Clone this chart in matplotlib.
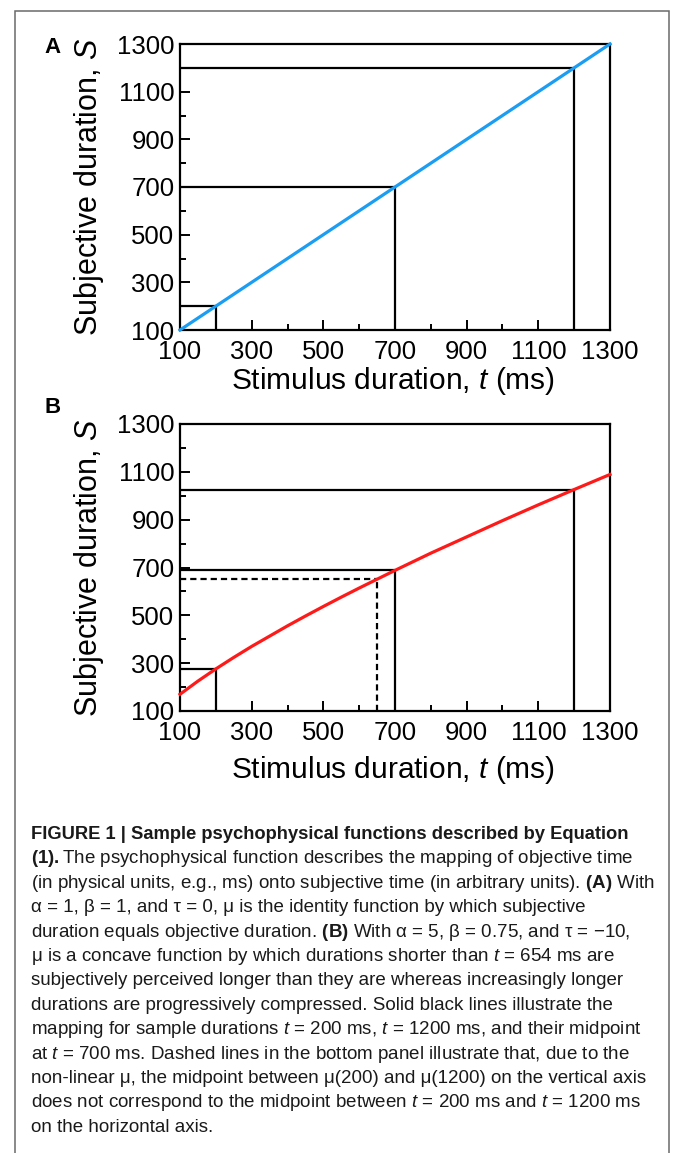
import matplotlib
matplotlib.use("Agg")
import matplotlib.pyplot as plt
from matplotlib import font_manager
from matplotlib.patches import Rectangle

# 字体：图用 Arial 类，图注用窄体（没有就退回普通体）
names = {f.name for f in font_manager.fontManager.ttflist}
SANS = "Liberation Sans"
NARROW = "Liberation Sans Narrow" if "Liberation Sans Narrow" in names else "Liberation Sans"

plt.rcParams["font.family"] = [SANS, "DejaVu Sans"]
plt.rcParams["mathtext.fontset"] = "custom"
plt.rcParams["mathtext.rm"] = SANS
plt.rcParams["mathtext.it"] = SANS + ":italic"
plt.rcParams["mathtext.bf"] = NARROW + ":bold"
plt.rcParams["mathtext.sf"] = NARROW + ":italic"

# 数据
t_curve = [100, 150, 200, 250, 300, 350, 400, 450, 500, 550, 600, 650, 700, 750, 800,
           900, 1000, 1100, 1200, 1300]
s_ident = [100, 150, 200, 250, 300, 350, 400, 450, 500, 550, 600, 650, 700, 750, 800,
           900, 1000, 1100, 1200, 1300]
s_concave = [170, 225, 276, 324, 370, 413, 456, 497, 537, 576, 614, 651, 688, 724, 760,
             828, 896, 962, 1026, 1089]

t_sample = [200, 700, 1200]
s_sample_a = [200, 700, 1200]
s_sample_b = [276, 688, 1026]

t_mid_b = 651
s_mid_b = 651

major_ticks = [100, 300, 500, 700, 900, 1100, 1300]
minor_ticks = [200, 400, 600, 800, 1000, 1200]

W, H = 673, 1153
fig = plt.figure(figsize=(W / 100, H / 100), dpi=100)


def fx(px):
    return px / W


def fy(py):
    return 1 - py / H


# 外框
fig.patches.append(Rectangle((fx(14.5), fy(1170)), fx(669) - fx(14.5), fy(10.5) - fy(1170),
                             transform=fig.transFigure, fill=False, ec="#6a6a6a", lw=1.1))


def panel(top_px, bottom_px, s_curve, s_sample, color, mid=None):
    ax = fig.add_axes([fx(180), fy(bottom_px), fx(610) - fx(180), fy(top_px) - fy(bottom_px)])
    ax.set_xlim(100, 1300)
    ax.set_ylim(100, 1300)
    for sp in ax.spines.values():
        sp.set_linewidth(1.6)
    ax.set_xticks(major_ticks)
    ax.set_xticks(minor_ticks, minor=True)
    ax.set_yticks(major_ticks)
    ax.set_yticks(minor_ticks, minor=True)
    ax.tick_params(which="both", direction="in", width=1.4, labelsize=18.5)
    ax.tick_params(which="major", length=7)
    ax.tick_params(which="minor", length=4.3)
    ax.tick_params(axis="x", pad=7)
    ax.tick_params(axis="y", pad=4)

    for t, s in zip(t_sample, s_sample):
        ax.plot([100, t], [s, s], color="black", lw=1.6, solid_capstyle="butt", zorder=2)
        ax.plot([t, t], [100, s], color="black", lw=1.6, solid_capstyle="butt", zorder=2)
    if mid is not None:
        tm, sm = mid
        ax.plot([100, tm], [sm, sm], color="black", lw=1.6, ls=(0, (2.8, 1.8)), zorder=2)
        ax.plot([tm, tm], [100, sm], color="black", lw=1.6, ls=(0, (2.8, 1.8)), zorder=2)

    ax.plot(t_curve, s_curve, color=color, lw=2.3, zorder=3, clip_on=False)
    return ax


ax_a = panel(44, 330, s_ident, s_sample_a, "#1a9df2")
ax_b = panel(424, 711, s_concave, s_sample_b, "#ff1a1a", mid=(t_mid_b, s_mid_b))

for top_px, bottom_px, xl_y, letter, let_y in [(44, 330, 389, "A", 53), (424, 711, 778, "B", 413)]:
    fig.text(fx(393), fy(xl_y), "Stimulus duration, $t$ (ms)", fontsize=21.5,
             ha="center", va="baseline")
    fig.text(fx(97), fy((top_px + bottom_px) / 2), "Subjective duration, $S$", fontsize=22,
             rotation=90, ha="center", va="baseline", rotation_mode="anchor")
    fig.text(fx(44), fy(let_y), letter, fontsize=16, fontweight="bold", ha="left", va="baseline")

# 图注
caption = [
    "FIGURE 1 | Sample psychophysical functions described by Equation",
    r"$\mathbf{(1).}$The psychophysical function describes the mapping of objective time",
    r"(in physical units, e.g., ms) onto subjective time (in arbitrary units). $\mathbf{(A)}$ With",
    "α = 1, β = 1, and τ = 0, μ is the identity function by which subjective",
    r"duration equals objective duration. $\mathbf{(B)}$ With α = 5, β = 0.75, and τ = −10,",
    r"μ is a concave function by which durations shorter than $\mathsf{t}$ = 654 ms are",
    "subjectively perceived longer than they are whereas increasingly longer",
    "durations are progressively compressed. Solid black lines illustrate the",
    r"mapping for sample durations $\mathsf{t}$ = 200 ms, $\mathsf{t}$ = 1200 ms, and their midpoint",
    r"at $\mathsf{t}$ = 700 ms. Dashed lines in the bottom panel illustrate that, due to the",
    "non-linear μ, the midpoint between μ(200) and μ(1200) on the vertical axis",
    r"does not correspond to the midpoint between $\mathsf{t}$ = 200 ms and $\mathsf{t}$ = 1200 ms",
    "on the horizontal axis.",
]
for i, line in enumerate(caption):
    fig.text(fx(31), fy(839 + 24.4 * i), line, fontsize=13.25 if i == 0 else 13.5,
             family=[NARROW, "DejaVu Sans"],
             fontweight="bold" if i == 0 else "normal", color="#1a1a1a",
             ha="left", va="baseline")

fig.savefig("out.png", dpi=100)
